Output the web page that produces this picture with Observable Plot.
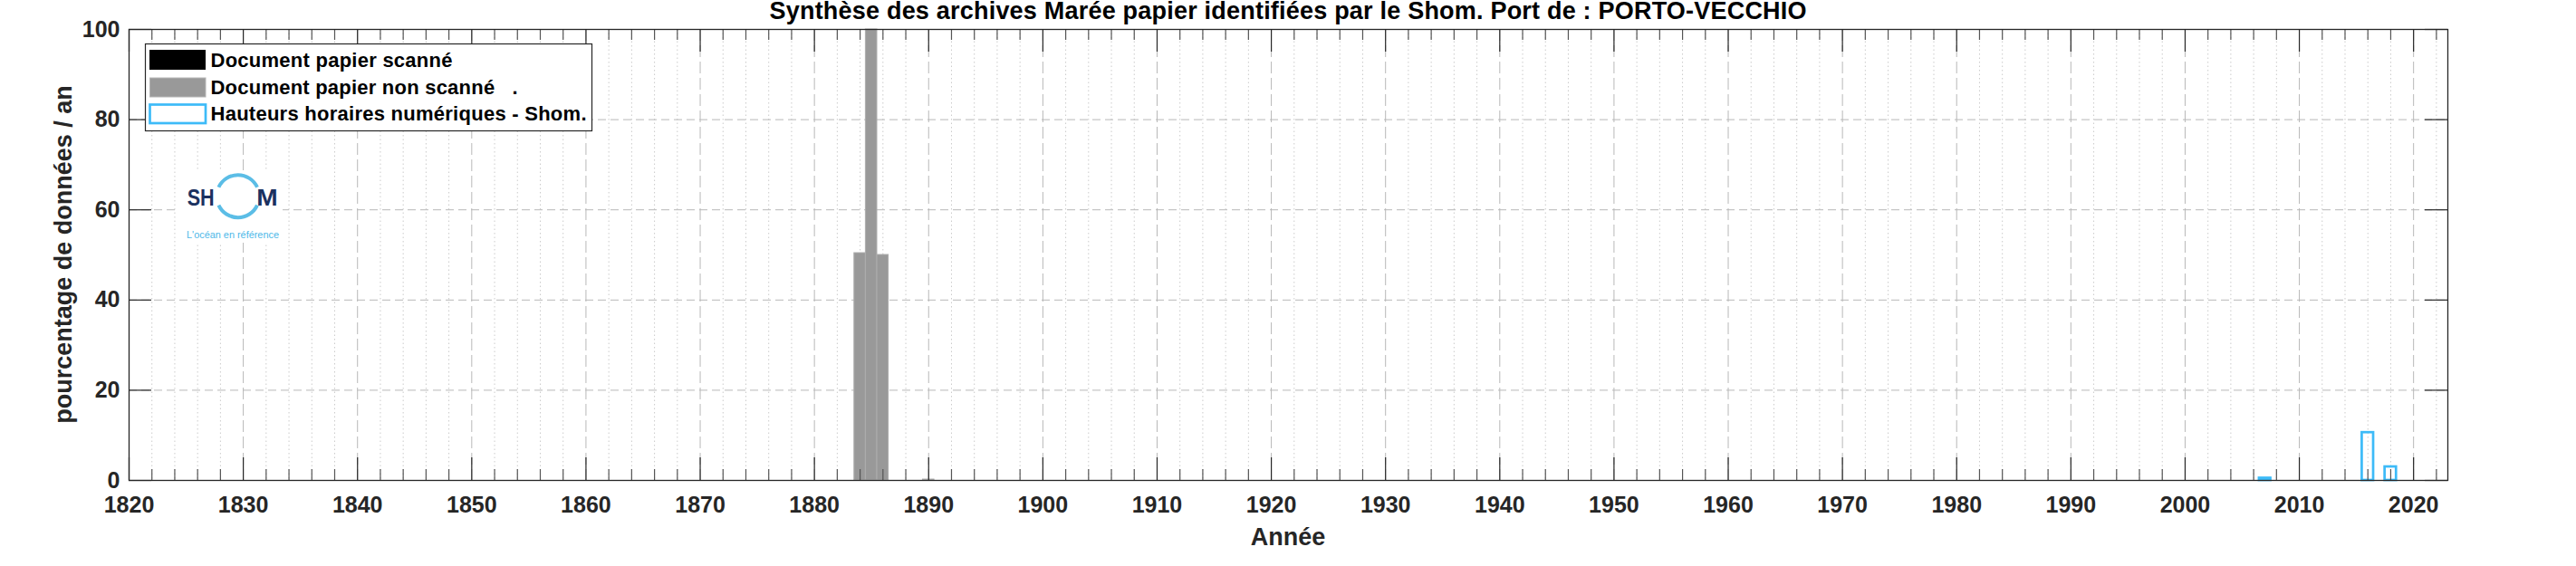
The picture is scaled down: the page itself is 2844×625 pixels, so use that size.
<!DOCTYPE html>
<html>
<head>
<meta charset="utf-8">
<script src="https://cdn.jsdelivr.net/npm/d3@7"></script>
<script src="https://cdn.jsdelivr.net/npm/@observablehq/plot@0.6"></script>
<style>
  html, body { margin: 0; padding: 0; background: white; }
  #chart { width: 2844px; height: 625px; }
</style>
</head>
<body>
<div id="chart"></div>
<script>
// ---------- data ----------
const titleText = "Synthèse des archives Marée papier identifiées par le Shom. Port de : PORTO-VECCHIO";
const xLabel = "Année";
const yLabel = "pourcentage de données / an";

const scannedYears = [];
const scannedValues = [];

const unscannedYears = [1884, 1885, 1886, 1890];
const unscannedValues = [50.4, 100, 50.0, 0.2];

const digitalYears = [2007, 2016, 2018];
const digitalValues = [0.5, 10.6, 3.0];

const xTicks = [1820, 1830, 1840, 1850, 1860, 1870, 1880, 1890, 1900, 1910, 1920, 1930, 1940, 1950, 1960, 1970, 1980, 1990, 2000, 2010, 2020];
const yTicks = [0, 20, 40, 60, 80, 100];
const xDomain = [1820, 2023];
const yDomain = [0, 100];

const legendLabels = ["Document papier scanné", "Document papier non scanné   .", "Hauteurs horaires numériques - Shom."];
const logoWords = ["SH", "M"];
const logoTagline = "L'océan en référence";

// ---------- build tables ----------
const scanned = scannedYears.map((y, i) => ({year: y, value: scannedValues[i]}));
const unscanned = unscannedYears.map((y, i) => ({year: y, value: unscannedValues[i]}));
const digital = digitalYears.map((y, i) => ({year: y, value: digitalValues[i]}));
const xMinor = d3.range(xDomain[0], xDomain[1] + 1, 2).filter(v => v % 10 !== 0);
const yGrid = yTicks.filter(v => v > 0 && v < 100);

const W = 2844, H = 625, mL = 142, mR = 142, mT = 32, mB = 95;
const innerW = W - mL - mR, innerH = H - mT - mB;
const axisColor = "#262626";
const blue = "#3dbbf8";
const gray = "#999999";
const font = "'Liberation Sans', Arial, sans-serif";

// tick lengths (pixels) expressed in scale units
const majorPx = 25, minorPx = 12;
const yPerPx = (yDomain[1] - yDomain[0]) / innerH;
const xPerPx = (xDomain[1] - xDomain[0]) / innerW;

const svg = Plot.plot({
  width: W, height: H,
  marginLeft: mL, marginRight: mR, marginTop: mT, marginBottom: mB,
  x: {domain: xDomain, axis: null},
  y: {domain: yDomain, axis: null},
  style: {fontFamily: font, fontSize: "25px", fontWeight: "bold", color: axisColor, background: "white", overflow: "visible"},
  marks: [
    // minor dotted grid
    Plot.ruleX(xMinor, {stroke: "#cbcbcb", strokeDasharray: "1.5,3", strokeWidth: 1}),
    // major dashed grid
    Plot.ruleX(xTicks.filter(v => v > xDomain[0]), {stroke: "#b8b8b8", strokeDasharray: "13,5", strokeWidth: 1}),
    Plot.ruleY(yGrid, {stroke: "#b8b8b8", strokeDasharray: "9,5", strokeWidth: 1}),
    // bars
    Plot.rect(unscanned, {x1: d => d.year - 0.5, x2: d => d.year + 0.5, y1: 0, y2: "value", fill: gray, stroke: "#adadad", strokeWidth: 1}),
    Plot.rect(scanned, {x1: d => d.year - 0.5, x2: d => d.year + 0.5, y1: 0, y2: "value", fill: "black"}),
    Plot.rect(digital, {x1: d => d.year - 0.5, x2: d => d.year + 0.5, y1: 0, y2: "value", fill: "none", stroke: blue, strokeWidth: 2.7}),
    // inward ticks bottom/top
    Plot.ruleX(xTicks, {y1: yDomain[0], y2: yDomain[0] + majorPx * yPerPx, stroke: axisColor, strokeWidth: 1.2}),
    Plot.ruleX(xTicks, {y1: yDomain[1] - majorPx * yPerPx, y2: yDomain[1], stroke: axisColor, strokeWidth: 1.2}),
    Plot.ruleX(xMinor, {y1: yDomain[0], y2: yDomain[0] + minorPx * yPerPx, stroke: "#555", strokeWidth: 1.2}),
    Plot.ruleX(xMinor, {y1: yDomain[1] - minorPx * yPerPx, y2: yDomain[1], stroke: "#555", strokeWidth: 1.2}),
    // inward ticks left/right
    Plot.ruleY(yTicks, {x1: xDomain[0], x2: xDomain[0] + majorPx * xPerPx, stroke: axisColor, strokeWidth: 1.2}),
    Plot.ruleY(yTicks, {x1: xDomain[1] - majorPx * xPerPx, x2: xDomain[1], stroke: axisColor, strokeWidth: 1.2}),
    Plot.frame({stroke: axisColor, strokeWidth: 1.3}),
    Plot.axisX({ticks: xTicks, tickSize: 0, tickPadding: 18, tickFormat: "d", label: null, fontSize: 25, fontWeight: "bold", fill: axisColor}),
    Plot.axisY({ticks: yTicks, tickSize: 0, tickPadding: 10, tickFormat: "d", label: null, fontSize: 25, fontWeight: "bold", fill: axisColor})
  ]
});

document.getElementById("chart").appendChild(svg);
const s = d3.select(svg);

function addText(parent, x, y, txt, opts = {}) {
  const t = parent.append("text").attr("x", x).attr("y", y)
    .attr("text-anchor", opts.anchor || "start")
    .attr("font-family", font)
    .attr("font-size", opts.size || 23)
    .attr("font-weight", opts.weight || "bold")
    .attr("fill", opts.fill || "black")
    .attr("xml:space", "preserve")
    .style("white-space", "pre")
    .text(txt);
  if (opts.len) t.attr("textLength", opts.len).attr("lengthAdjust", opts.adjust || "spacing");
  if (opts.transform) t.attr("transform", opts.transform);
  return t;
}

// title
addText(s, mL + innerW / 2, 21, titleText, {anchor: "middle", size: 27, len: 1145});
// x label
addText(s, mL + innerW / 2, 602, xLabel, {anchor: "middle", size: 27, fill: axisColor});
// y label
addText(s, 0, 0, yLabel, {anchor: "middle", size: 27, fill: axisColor, transform: `translate(78.5,${mT + innerH / 2}) rotate(-90)`});

// legend
const lg = s.append("g");
lg.append("rect").attr("x", 160.5).attr("y", 48.5).attr("width", 493).attr("height", 96)
  .attr("fill", "white").attr("stroke", axisColor).attr("stroke-width", 1.2);
lg.append("rect").attr("x", 165).attr("y", 55).attr("width", 62).attr("height", 22).attr("fill", "black");
lg.append("rect").attr("x", 165.5).attr("y", 86).attr("width", 61.5).attr("height", 21).attr("fill", gray).attr("stroke", "#b5b5b5").attr("stroke-width", 1);
lg.append("rect").attr("x", 165.5).attr("y", 115.5).attr("width", 61.5).attr("height", 20.5).attr("fill", "white").attr("stroke", blue).attr("stroke-width", 2.7);
const rowBase = [74, 104, 133];
const rowLen = [267, 339, 415];
legendLabels.forEach((t, i) => addText(lg, 232.5, rowBase[i], t, {size: 22, len: rowLen[i]}));

// logo
const logo = s.append("g");
logo.append("rect").attr("x", 198).attr("y", 188).attr("width", 114).attr("height", 80).attr("fill", "white");
addText(logo, 206.7, 227, logoWords[0], {size: 26, fill: "#1b3160", len: 30, adjust: "spacingAndGlyphs"});
addText(logo, 283.3, 227, logoWords[1], {size: 26, fill: "#1b3160", len: 23.4, adjust: "spacingAndGlyphs"});
const arc = d3.arc().innerRadius(21.5).outerRadius(25.5);
const ringG = logo.append("g").attr("transform", "translate(262.7,216.7)");
ringG.append("path").attr("d", arc({startAngle: -65 * Math.PI / 180, endAngle: 65 * Math.PI / 180})).attr("fill", "#5bbde6");
ringG.append("path").attr("d", arc({startAngle: 115 * Math.PI / 180, endAngle: 245 * Math.PI / 180})).attr("fill", "#5bbde6");
addText(logo, 257, 263, logoTagline, {anchor: "middle", size: 11, weight: "normal", fill: "#4db8e8", len: 102, adjust: "spacingAndGlyphs"});
</script>
</body>
</html>
